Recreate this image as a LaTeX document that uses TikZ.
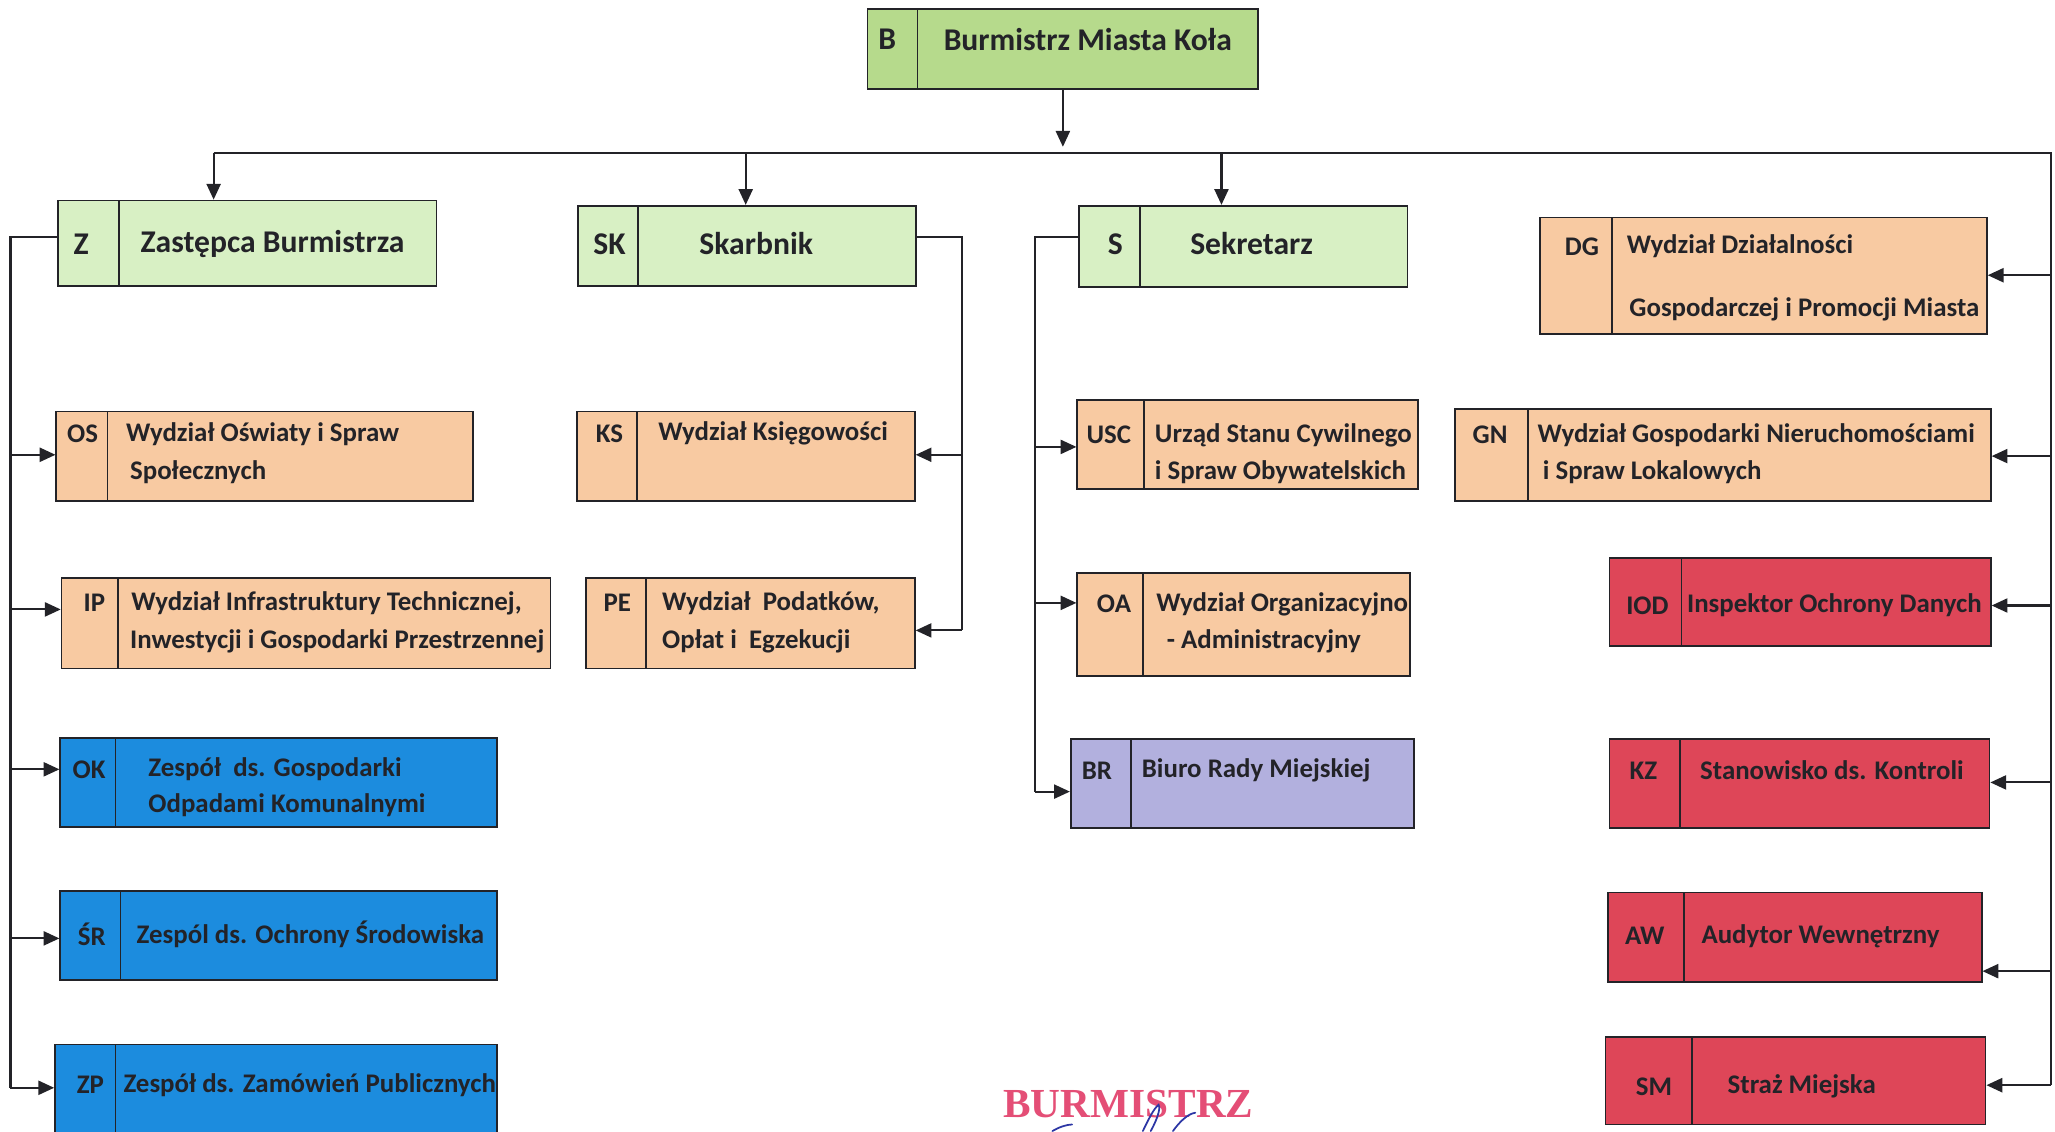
\documentclass[tikz,border=0pt]{standalone}
\usepackage{fontspec}
\setmainfont{Carlito}
\newfontfamily\sigfont{Liberation Serif}
\usetikzlibrary{arrows.meta,fit}
\definecolor{gB}{RGB}{182,218,140}
\definecolor{gL}{RGB}{216,240,196}
\definecolor{pe}{RGB}{248,202,162}
\definecolor{bl}{RGB}{28,140,222}
\definecolor{lv}{RGB}{178,176,222}
\definecolor{rd}{RGB}{222,70,88}
\definecolor{ink}{RGB}{35,35,40}
\definecolor{sig}{RGB}{228,78,118}
\definecolor{sigb}{RGB}{45,55,165}
\newcommand\obox[7]{%
  \node[box,fill=#2,fit={(#3,#4)(#5,#6)}] (#1) {};
  \draw[divline] (#7,#4) -- (#7,#6);}
\begin{document}
\begin{tikzpicture}[x=0.02621cm,y=-0.02621cm,
  box/.style={draw=ink,line width=1pt,inner sep=0pt},
  divline/.style={draw=ink,line width=0.9pt},
  code/.style={font=\fontsize{15.3}{17}\selectfont\bfseries,text=ink,inner sep=0pt},
  txt/.style={font=\fontsize{15.3}{17}\selectfont\bfseries,text=ink,anchor=west,inner sep=0pt},
  head/.style={font=\fontsize{18}{20}\selectfont\bfseries,text=ink,inner sep=0pt},
  link/.style={draw=ink,line width=1.2pt},
  arr/.style={link,-{Triangle[length=9pt,width=8pt]}}]
\useasboundingbox[fill=white] (0,0) rectangle (1568,863);

% top
\obox{B}{gB}{662}{7}{960}{68}{700}
\node[head] (Bc) at (677,30) {B};
\node[head] (Bt) at (830,30) {Burmistrz Miasta Koła};

\obox{Z}{gL}{44}{153}{333}{218}{91}
\node[head] (Zc) at (62,186) {Z};
\node[head] (Zt) at (208,186) {Zastępca Burmistrza};
\obox{SK}{gL}{441}{157}{699}{218}{487}
\node[head] (SKc) at (465,186) {SK};
\node[head] (SKt) at (577,186) {Skarbnik};
\obox{S}{gL}{823}{157}{1074}{219}{870}
\node[head] (Sc) at (851,186) {S};
\node[head] (St) at (955,186) {Sekretarz};

% departments
\obox{DG}{pe}{1175}{166}{1516}{255}{1230}
\node[code] (DGc) at (1207,188) {DG};
\node[txt] (DGt1) at (1241,188) {Wydział Działalności};
\node[txt] (DGt2) at (1243,236) {Gospodarczej i Promocji Miasta};

\obox{OS}{pe}{43}{314}{361}{382}{82}
\node[code] (OSc) at (63,331) {OS};
\node[txt] (OSt1) at (96,331) {Wydział Oświaty i Spraw};
\node[txt] (OSt2) at (99,360) {Społecznych};

\obox{IP}{pe}{47}{441}{420}{510}{90}
\node[code] (IPc) at (72,460) {IP};
\node[txt] (IPt1) at (100,460) {Wydział Infrastruktury Technicznej,};
\node[txt] (IPt2) at (99,489) {Inwestycji i Gospodarki Przestrzennej};

\obox{OK}{bl}{46}{563}{379}{631}{88}
\node[code] (OKc) at (68,587) {OK};
\node[txt] (OKt1) at (113,587) {Zespół~ ds. Gospodarki};
\node[txt] (OKt2) at (113,614) {Odpadami Komunalnymi};

\obox{SR}{bl}{46}{680}{379}{748}{92}
\node[code] (SRc) at (70,713) {ŚR};
\node[txt] (SRt1) at (104,713) {Zespól ds. Ochrony Środowiska};

\obox{ZP}{bl}{42}{797}{379}{880}{88}
\node[code] (ZPc) at (69,828) {ZP};
\node[txt] (ZPt1) at (94,828) {Zespół ds. Zamówień Publicznych};

\obox{KS}{pe}{440}{314}{698}{382}{486}
\node[code] (KSc) at (465,331) {KS};
\node[txt] (KSt1) at (502,331) {Wydział Księgowości};

\obox{PE}{pe}{447}{441}{698}{510}{493}
\node[code] (PEc) at (471,460) {PE};
\node[txt] (PEt1) at (505,460) {Wydział~ Podatków,};
\node[txt] (PEt2) at (505,489) {Opłat i~ Egzekucji};

\obox{USC}{pe}{822}{305}{1082}{373}{873}
\node[code] (USCc) at (846,332) {USC};
\node[txt] (USCt1) at (881,332) {Urząd Stanu Cywilnego};
\node[txt] (USCt2) at (881,360) {i Spraw Obywatelskich};

\obox{OA}{pe}{822}{437}{1076}{516}{872}
\node[code] (OAc) at (850,461) {OA};
\node[txt] (OAt1) at (882,461) {Wydział Organizacyjno};
\node[txt] (OAt2) at (890,489) {- Administracyjny};

\obox{BR}{lv}{817}{564}{1079}{632}{863}
\node[code] (BRc) at (837,588) {BR};
\node[txt] (BRt1) at (871,588) {Biuro Rady Miejskiej};

\obox{GN}{pe}{1110}{312}{1519}{382}{1166}
\node[code] (GNc) at (1137,332) {GN};
\node[txt] (GNt1) at (1173,332) {Wydział Gospodarki Nieruchomościami};
\node[txt] (GNt2) at (1177,360) {i Spraw Lokalowych};

\obox{IOD}{rd}{1228}{426}{1519}{493}{1283}
\node[code] (IODc) at (1257,462) {IOD};
\node[txt] (IODt1) at (1287,462) {Inspektor Ochrony Danych};

\obox{KZ}{rd}{1228}{564}{1518}{632}{1282}
\node[code] (KZc) at (1254,588) {KZ};
\node[txt] (KZt1) at (1297,588) {Stanowisko ds. Kontroli};

\obox{AW}{rd}{1227}{681}{1512}{749}{1285}
\node[code] (AWc) at (1255,714) {AW};
\node[txt] (AWt1) at (1298,714) {Audytor Wewnętrzny};

\obox{SM}{rd}{1225}{791}{1515}{858}{1291}
\node[code] (SMc) at (1262,829) {SM};
\node[txt] (SMt1) at (1318,829) {Straż Miejska};

% connectors: top
\coordinate (bb) at (811,112);
\coordinate (bz) at (163,117);
\coordinate (bsk) at (569,117);
\coordinate (bs) at (932,117);
\coordinate (br) at (1565,117);
\coordinate (rend) at (1565,828);
\draw[arr] (B.south -| bb) -- (bb);
\draw[link] (bz) -- (br) -- (rend);
\draw[arr] (bz) -- (bz |- Z.north);
\draw[arr] (bsk) -- (bsk |- SK.north);
\draw[arr] (bs) -- (bs |- S.north);

% right side
\foreach \n/\y in {DG/210,GN/348,IOD/462,KZ/597,AW/741,SM/828}{
  \coordinate (r\n) at (1565,\y);
  \draw[arr] (r\n) -- (r\n -| \n.east);
}

% Z trunk
\coordinate (zt) at (8,181);
\coordinate (zend) at (8,830);
\draw[link] (zt -| Z.west) -- (zt) -- (zend);
\foreach \n/\y in {OS/347,IP/465,OK/587,SR/716,ZP/830}{
  \coordinate (l\n) at (8,\y);
  \draw[arr] (l\n) -- (l\n -| \n.west);
}

% SK trunk
\coordinate (skt) at (734,181);
\coordinate (skend) at (734,481);
\draw[link] (skt -| SK.east) -- (skt) -- (skend);
\foreach \n/\y in {KS/347,PE/481}{
  \coordinate (k\n) at (734,\y);
  \draw[arr] (k\n) -- (k\n -| \n.east);
}

% S trunk
\coordinate (st) at (790,181);
\coordinate (send) at (790,604);
\draw[link] (st -| S.west) -- (st) -- (send);
\foreach \n/\y in {USC/341,OA/460,BR/604}{
  \coordinate (s\n) at (790,\y);
  \draw[arr] (s\n) -- (s\n -| \n.west);
}

% signature
\node[font=\sigfont\fontsize{23.5}{25}\selectfont\bfseries,text=sig,inner sep=0pt] (sig) at (861,842) {BURMISTRZ};
\draw[sigb,line width=1pt,line cap=round] (803,863) .. controls (808,860) and (814,858) .. (818,858);
\draw[sigb,line width=1pt,line cap=round] (872,863) .. controls (876,855) and (880,846) .. (884,843) .. controls (886,846) and (882,856) .. (878,863);
\draw[sigb,line width=1pt,line cap=round] (895,863) .. controls (900,856) and (906,850) .. (912,849);
\end{tikzpicture}
\end{document}
